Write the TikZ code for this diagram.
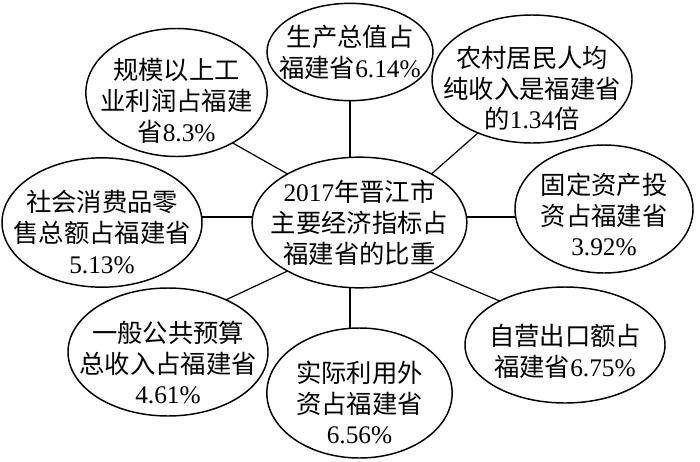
\documentclass[tikz,border=0pt]{standalone}
\usepackage{fontspec}
\setmainfont{Liberation Serif}
\newfontfamily\cjk{Noto Sans CJK SC}
\usetikzlibrary{shapes.geometric}
\newcommand\zh[1]{{\cjk #1}}
\newcommand\bubtext[2]{\makebox[0pt]{\raisebox{\dimexpr-7.3pt-#1\relax}[0pt][0pt]{\begin{tabular}{@{}c@{}}#2\end{tabular}}}}
\begin{document}
\begin{tikzpicture}[x=0.75pt,y=-0.75pt,
  bub/.style={draw,ellipse,line width=1.1pt,inner sep=0pt,outer sep=0pt,
    font=\fontsize{19pt}{23pt}\selectfont},
  link/.style={line width=0.9pt}]
\useasboundingbox (0,0) rectangle (700,461);
\node[bub,minimum width=161pt,minimum height=98pt] (c) at (359.5,222.5)
  {\bubtext{0pt}{2017\zh{年晋江市}\\ \zh{主要经济指标占}\\ \zh{福建省的比重}}};
\node[bub,minimum width=124.5pt,minimum height=73pt] (t) at (350,52)
  {\bubtext{0pt}{\zh{生产总值占}\\ \zh{福建省}6.14\%}};
\node[bub,minimum width=150pt,minimum height=96pt] (tr) at (532,79)
  {\bubtext{6.75pt}{\zh{农村居民人均}\\ \zh{纯收入是福建省}\\ \zh{的}1.34\zh{倍}}};
\node[bub,minimum width=133.5pt,minimum height=96pt] (r) at (604,209)
  {\bubtext{4.5pt}{\zh{固定资产投}\\ \zh{资占福建省}\\ 3.92\%}};
\node[bub,minimum width=150pt,minimum height=87pt] (br) at (565,345)
  {\bubtext{4.5pt}{\zh{自营出口额占}\\ \zh{福建省}6.75\%}};
\node[bub,minimum width=139pt,minimum height=97.5pt] (b) at (359.5,393)
  {\bubtext{7.5pt}{\zh{实际利用外}\\ \zh{资占福建省}\\ 6.56\%}};
\node[bub,minimum width=150pt,minimum height=96pt] (bl) at (168,352)
  {\bubtext{8.25pt}{\zh{一般公共预算}\\ \zh{总收入占福建省}\\ 4.61\%}};
\node[bub,minimum width=150pt,minimum height=97pt] (l) at (102,222.5)
  {\bubtext{7.5pt}{\zh{社会消费品零}\\ \zh{售总额占福建省}\\ 5.13\%}};
\node[bub,minimum width=136pt,minimum height=96pt] (tl) at (176.5,92.5)
  {\bubtext{6pt}{\zh{规模以上工}\\ \zh{业利润占福建}\\ \zh{省}8.3\%}};
\draw[link] (tl.-42) -- (c.146);
\draw[link] (t.south) -- (t.south |- c.north);
\draw[link] (tr.225) -- (c.34);
\draw[link] (c.3) -- (c.3 -| r.west);
\draw[link] (c.177) -- (c.177 -| l.east);
\draw[link] (bl.42) -- (c.214);
\draw[link] (t.south |- c.south) -- (t.south |- b.north);
\draw[link] (c.-35) -- (br.146);
\end{tikzpicture}
\end{document}
